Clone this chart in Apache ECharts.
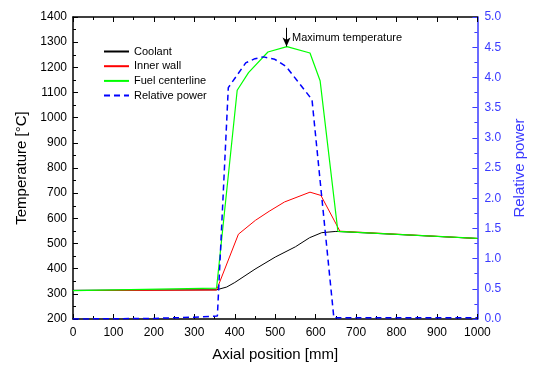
<!DOCTYPE html>
<html>
<head>
<meta charset="utf-8">
<script src="https://cdn.jsdelivr.net/npm/echarts@6/dist/echarts.min.js"></script>
<style>
  html, body { margin: 0; padding: 0; background: #fff; }
  #chart { width: 535px; height: 367px; }
</style>
</head>
<body>
<div id="chart"></div>
<script>
// 轴向位置 [mm] 与各条曲线数值
const coolantX = [0, 355, 380, 400, 450, 500, 550, 585, 615, 650, 1000];
const coolantT = [314, 316, 327, 345, 398, 446, 487, 523, 543, 548, 520];

const wallX = [0, 355, 409, 451, 485, 523, 586, 613, 660, 1000];
const wallT = [313, 315, 537, 592, 628, 665, 704, 691, 549, 520];

const fuelX = [0, 355, 406, 434, 482, 529, 586, 611, 655, 1000];
const fuelT = [313, 323, 1109, 1179, 1261, 1282, 1257, 1147, 548, 520];

const powerX = [0, 200, 300, 357, 384, 427, 450, 471, 499, 527, 555, 575, 591, 645, 1000];
const powerP = [0, 0.01, 0.03, 0.05, 3.83, 4.24, 4.31, 4.34, 4.30, 4.18, 3.94, 3.77, 3.63, 0.02, 0.02];

// 标注：最大温度位置
const peakX = 528;
const arrowFrom = 1357;
const arrowTo = 1283;
const labelT = 1318;

const zip = (xs, ys) => xs.map((x, i) => [x, ys[i]]);

const FONT = 'Liberation Sans, Arial, sans-serif';
const BLUE = '#0000ff';
const AXIS_BLUE = '#3a3aff';

const chart = echarts.init(document.getElementById('chart'));

const tickCommon = { inside: true, length: 5, lineStyle: { color: '#000', width: 1 } };
const minorCommon = { show: true, splitNumber: 2, length: 3, lineStyle: { color: '#000', width: 1 } };
const plain = (v) => String(v);

const option = {
  animation: false,
  textStyle: { fontFamily: FONT },
  grid: { left: 73, right: 47, top: 17, bottom: 46 },
  legend: {
    orient: 'vertical',
    left: 98,
    top: 41,
    itemWidth: 25,
    itemHeight: 10,
    itemGap: 3.7,
    itemStyle: { opacity: 0 },
    textStyle: { fontSize: 11, color: '#000', fontFamily: FONT },
    data: ['Coolant', 'Inner wall', 'Fuel centerline', 'Relative power'],
  },
  xAxis: [
    {
      type: 'value',
      min: 0, max: 1000, interval: 100,
      name: 'Axial position [mm]',
      nameLocation: 'middle',
      nameGap: 28,
      nameTextStyle: { fontSize: 15, color: '#000' },
      axisLine: { onZero: false, lineStyle: { color: '#000', width: 1.5 } },
      axisTick: tickCommon,
      minorTick: minorCommon,
      axisLabel: { fontSize: 12, color: '#000', margin: 8, formatter: plain },
      splitLine: { show: false },
    },
    {
      type: 'value',
      position: 'top',
      min: 0, max: 1000, interval: 100,
      axisLine: { onZero: false, lineStyle: { color: '#000', width: 1.5 } },
      axisTick: tickCommon,
      minorTick: minorCommon,
      axisLabel: { show: false },
      splitLine: { show: false },
    },
  ],
  yAxis: [
    {
      type: 'value',
      min: 200, max: 1400, interval: 100,
      name: 'Temperature [°C]',
      nameLocation: 'middle',
      nameGap: 40,
      nameTextStyle: { fontSize: 15, color: '#000' },
      axisLine: { show: true, onZero: false, lineStyle: { color: '#000', width: 1.5 } },
      axisTick: tickCommon,
      minorTick: minorCommon,
      axisLabel: { fontSize: 12, color: '#000', margin: 6, formatter: plain },
      splitLine: { show: false },
    },
    {
      type: 'value',
      position: 'right',
      min: 0, max: 5, interval: 0.5,
      name: 'Relative power',
      nameLocation: 'middle',
      nameGap: 33,
      nameRotate: 90,
      nameTextStyle: { fontSize: 15, color: AXIS_BLUE },
      axisLine: { show: true, onZero: false, lineStyle: { color: AXIS_BLUE, width: 1.5 } },
      axisTick: { inside: true, length: 5, lineStyle: { color: AXIS_BLUE, width: 1 } },
      minorTick: { show: true, splitNumber: 2, length: 3, lineStyle: { color: AXIS_BLUE, width: 1 } },
      axisLabel: { fontSize: 12, color: AXIS_BLUE, margin: 7, formatter: (v) => v.toFixed(1) },
      splitLine: { show: false },
    },
  ],
  series: [
    {
      name: 'Coolant', type: 'line', xAxisIndex: 0, yAxisIndex: 0,
      data: zip(coolantX, coolantT), showSymbol: false, symbol: 'none',
      lineStyle: { color: '#000', width: 1 }, itemStyle: { color: '#000' },
    },
    {
      name: 'Inner wall', type: 'line', xAxisIndex: 0, yAxisIndex: 0,
      data: zip(wallX, wallT), showSymbol: false, symbol: 'none',
      lineStyle: { color: '#ff0000', width: 1 }, itemStyle: { color: '#ff0000' },
    },
    {
      name: 'Fuel centerline', type: 'line', xAxisIndex: 0, yAxisIndex: 0,
      data: zip(fuelX, fuelT), showSymbol: false, symbol: 'none',
      lineStyle: { color: '#00ff00', width: 1.2 }, itemStyle: { color: '#00ff00' },
      markLine: {
        silent: true,
        animation: false,
        symbol: ['none', 'arrow'],
        symbolSize: [6, 9],
        lineStyle: { color: '#000', width: 1, type: 'solid' },
        label: { show: false },
        data: [[{ coord: [peakX, arrowFrom] }, { coord: [peakX, arrowTo] }]],
      },
      markPoint: {
        silent: true,
        symbol: 'circle',
        symbolSize: 1,
        itemStyle: { color: 'rgba(0,0,0,0)' },
        label: {
          show: true, position: 'right', distance: 5,
          formatter: 'Maximum temperature',
          color: '#000', fontSize: 11, fontFamily: FONT,
        },
        data: [{ coord: [peakX, labelT] }],
      },
    },
    {
      name: 'Relative power', type: 'line', xAxisIndex: 0, yAxisIndex: 1,
      data: zip(powerX, powerP), showSymbol: false, symbol: 'none',
      lineStyle: { color: BLUE, width: 1.5, type: [6, 4] }, itemStyle: { color: BLUE },
    },
  ],
};

chart.setOption(option);
</script>
</body>
</html>
